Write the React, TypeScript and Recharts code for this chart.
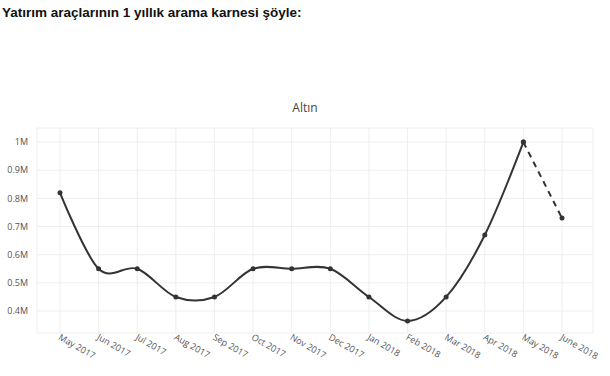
import {
  LineChart,
  Line,
  XAxis,
  YAxis,
  CartesianGrid,
} from "recharts";

const months = [
  "May 2017", "Jun 2017", "Jul 2017", "Aug 2017", "Sep 2017", "Oct 2017", "Nov 2017",
  "Dec 2017", "Jan 2018", "Feb 2018", "Mar 2018", "Apr 2018", "May 2018", "June 2018",
];
// aylık arama hacmi (solid part), last month is the projected dashed segment
const actual = [820000, 550000, 550000, 450000, 450000, 550000, 550000, 550000, 450000, 365000, 450000, 670000, 1000000, null];
const projected = [null, null, null, null, null, null, null, null, null, null, null, null, 1000000, 730000];
const yTicks = [400000, 500000, 600000, 700000, 800000, 900000, 1000000];

const data = months.map((m, i) => ({ month: m, actual: actual[i], projected: projected[i] }));

const fmt = (v: number) => (v >= 1000000 ? `${v / 1000000}M` : `${(v / 1000000).toFixed(1)}M`);

// catmull-rom style spline, close to plotly's "spline" shape
function cardinal(context: any) {
  const k = 1 / 6;
  let x0 = 0, y0 = 0, x1 = 0, y1 = 0, x2 = 0, y2 = 0, pt = 0;
  const bez = (x: number, y: number) => {
    context.bezierCurveTo(
      x1 + k * (x2 - x0), y1 + k * (y2 - y0),
      x2 + k * (x1 - x), y2 + k * (y1 - y),
      x2, y2
    );
  };
  return {
    areaStart() {},
    areaEnd() {},
    lineStart() {
      x0 = x1 = x2 = y0 = y1 = y2 = NaN;
      pt = 0;
    },
    lineEnd() {
      if (pt === 2) context.lineTo(x2, y2);
      else if (pt === 3) bez(x1, y1);
    },
    point(x: number, y: number) {
      x = +x; y = +y;
      if (pt === 0) { pt = 1; context.moveTo(x, y); }
      else if (pt === 1) { pt = 2; x1 = x; y1 = y; }
      else {
        if (pt === 2) pt = 3;
        bez(x, y);
      }
      x0 = x1; x1 = x2; x2 = x;
      y0 = y1; y1 = y2; y2 = y;
    },
  };
}

function MonthTick({ x, y, payload }: any) {
  return (
    <text
      x={x}
      y={y}
      dx={0}
      dy={4.5}
      transform={`rotate(30, ${x}, ${y})`}
      textAnchor="start"
      fontSize={9}
      fill="#555"
      fontFamily="'Open Sans', sans-serif"
    >
      {payload.value}
    </text>
  );
}

export default function App() {
  return (
    <div style={{ position: "relative", width: 610, height: 376, background: "#fff" }}>
      <style>{`body { margin: 0; }`}</style>
      <div
        style={{
          position: "absolute",
          left: 2,
          top: 5,
          fontFamily: "'Liberation Sans Narrow', 'Liberation Sans', sans-serif",
          fontWeight: 700,
          fontSize: 13.5,
          color: "#111",
        }}
      >
        Yatırım araçlarının 1 yıllık arama karnesi şöyle:
      </div>
      <div
        style={{
          position: "absolute",
          left: 0,
          width: 610,
          top: 99,
          textAlign: "center",
          fontFamily: "'Open Sans', sans-serif",
          fontSize: 12,
          color: "#444",
        }}
      >
        Altın
      </div>
      <LineChart
        width={610}
        height={376}
        data={data}
        margin={{ top: 128, right: 17, left: 0, bottom: 3 }}
        style={{ position: "absolute", left: 0, top: 0 }}
      >
        <CartesianGrid stroke="#eeeeee" strokeWidth={1} />
        <XAxis
          dataKey="month"
          interval={0}
          axisLine={false}
          tickLine={false}
          tickSize={0}
          height={40}
          padding={{ left: 23, right: 31 }}
          tick={<MonthTick />}
        />
        <YAxis
          type="number"
          domain={[322000, 1050000]}
          allowDataOverflow
          ticks={yTicks}
          tickFormatter={fmt}
          axisLine={false}
          tickLine={false}
          tickSize={0}
          tickMargin={9}
          width={37}
          tick={{ fontSize: 9, fill: "#555", fontFamily: "'Open Sans', sans-serif" }}
        />
        <Line
          dataKey="actual"
          type={cardinal as any}
          stroke="#333"
          strokeWidth={2}
          dot={{ r: 2.5, fill: "#333", stroke: "#333", strokeWidth: 0 }}
          isAnimationActive={false}
          connectNulls={false}
        />
        <Line
          dataKey="projected"
          type="linear"
          stroke="#333"
          strokeWidth={2}
          strokeDasharray="6 5"
          dot={{ r: 2.5, fill: "#333", stroke: "#333", strokeWidth: 0 }}
          isAnimationActive={false}
          connectNulls={false}
        />
      </LineChart>
    </div>
  );
}
